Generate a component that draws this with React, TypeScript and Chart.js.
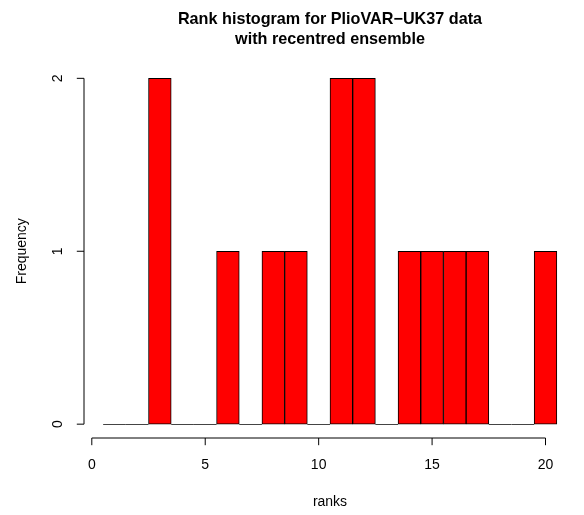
import React, { useEffect, useRef } from "react";
import { Chart, registerables } from "chart.js";

Chart.register(...registerables);

const ranks = [1, 2, 3, 4, 5, 6, 7, 8, 9, 10, 11, 12, 13, 14, 15, 16, 17, 18, 19, 20];
const frequency = [0, 0, 2, 0, 0, 1, 0, 1, 1, 0, 2, 2, 0, 1, 1, 1, 1, 0, 0, 1];
const xTicks = [0, 5, 10, 15, 20];
const yTicks = [0, 1, 2];
const titleLines = ["Rank histogram for PlioVAR\u2212UK37 data", "with recentred ensemble"];
const xTitle = "ranks";
const yTitle = "Frequency";

const FONT = "'Liberation Sans', Arial, Helvetica, sans-serif";

const rAxesPlugin = {
  id: "rAxes",
  afterDatasetsDraw(chart: any) {
    const ctx = chart.ctx;
    const xs = chart.scales.x;
    const ys = chart.scales.y;
    ctx.save();
    ctx.lineWidth = 1;
    ctx.strokeStyle = "#444";
    ranks.forEach((r, i) => {
      if (frequency[i] === 0) {
        const y0 = Math.round(ys.getPixelForValue(0)) + 0.5;
        ctx.beginPath();
        ctx.moveTo(xs.getPixelForValue(r - 0.5), y0);
        ctx.lineTo(xs.getPixelForValue(r + 0.5), y0);
        ctx.stroke();
      }
    });
    ctx.restore();
  },
  afterDraw(chart: any) {
    const ctx = chart.ctx;
    const xs = chart.scales.x;
    const ys = chart.scales.y;
    const area = chart.chartArea;
    const tick = 7.2;
    ctx.save();
    ctx.strokeStyle = "#000";
    ctx.fillStyle = "#000";
    ctx.lineWidth = 1;

    // x axis
    const ay = Math.round(area.bottom);
    ctx.beginPath();
    ctx.moveTo(xs.getPixelForValue(xTicks[0]), ay);
    ctx.lineTo(xs.getPixelForValue(xTicks[xTicks.length - 1]), ay);
    xTicks.forEach((t) => {
      const px = xs.getPixelForValue(t);
      ctx.moveTo(px, ay);
      ctx.lineTo(px, ay + tick);
    });
    ctx.stroke();
    ctx.font = `14px ${FONT}`;
    ctx.textAlign = "center";
    ctx.textBaseline = "alphabetic";
    xTicks.forEach((t) => {
      ctx.fillText(String(t), xs.getPixelForValue(t), 469);
    });

    // y axis
    const ax = Math.round(area.left) - 1;
    ctx.beginPath();
    ctx.moveTo(ax, ys.getPixelForValue(yTicks[0]));
    ctx.lineTo(ax, ys.getPixelForValue(yTicks[yTicks.length - 1]));
    yTicks.forEach((t) => {
      const py = ys.getPixelForValue(t);
      ctx.moveTo(ax, py);
      ctx.lineTo(ax - tick, py);
    });
    ctx.stroke();
    yTicks.forEach((t) => {
      const py = ys.getPixelForValue(t);
      ctx.save();
      ctx.translate(62, py);
      ctx.rotate(-Math.PI / 2);
      ctx.fillText(String(t), 0, 0);
      ctx.restore();
    });

    // axis titles
    const cx = (area.left + area.right) / 2;
    ctx.fillText(xTitle, cx, 505.5);
    ctx.save();
    ctx.translate(26, (area.top + area.bottom) / 2);
    ctx.rotate(-Math.PI / 2);
    ctx.fillText(yTitle, 0, 0);
    ctx.restore();

    // title
    ctx.font = `bold 16.2px ${FONT}`;
    ctx.fillText(titleLines[0], cx, 23.5);
    ctx.fillText(titleLines[1], cx, 43.5);
    ctx.restore();
  },
};

export default function App() {
  const ref = useRef<HTMLCanvasElement | null>(null);
  useEffect(() => {
    if (!ref.current) return;
    const chart = new Chart(ref.current, {
      type: "bar",
      data: {
        datasets: [
          {
            data: ranks.map((r, i) => ({ x: r, y: frequency[i] })),
            backgroundColor: "#ff0000",
            borderColor: "#000000",
            borderWidth: 1,
            borderSkipped: false,
            categoryPercentage: 1,
            barPercentage: 1,
          },
        ],
      },
      options: {
        responsive: false,
        animation: false,
        devicePixelRatio: 1,
        layout: { padding: { left: 85, right: 9, top: 64.5, bottom: 77 } },
        plugins: {
          legend: { display: false },
          title: { display: false },
          tooltip: { enabled: false },
        },
        scales: {
          x: { type: "linear", min: -0.3, max: 21.3, offset: false, display: false },
          y: { type: "linear", min: -0.08, max: 2.08, display: false },
        },
      },
      plugins: [rAxesPlugin],
    });
    return () => chart.destroy();
  }, []);
  return (
    <div style={{ position: "absolute", left: 0, top: 0, width: 584, height: 515, background: "#fff" }}>
      <canvas ref={ref} width={584} height={515} style={{ display: "block" }} />
    </div>
  );
}
